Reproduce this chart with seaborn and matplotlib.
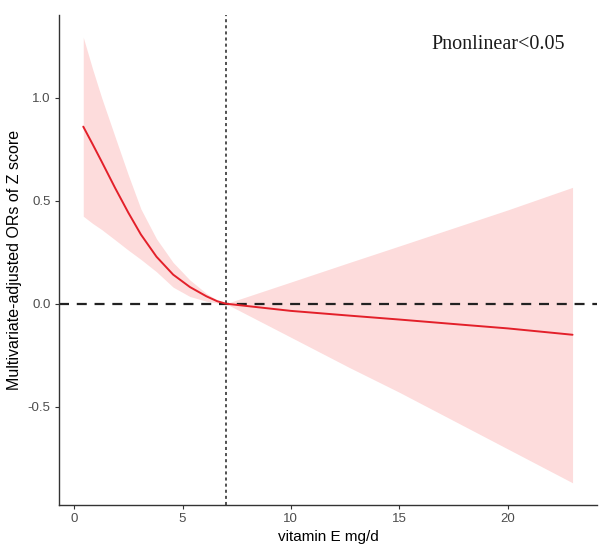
import matplotlib
matplotlib.use("Agg")
import matplotlib.pyplot as plt
import numpy as np
import pandas as pd
import seaborn as sns

# Values (restricted cubic spline, ref = 7 mg/d)
vit_e = [0.42, 0.85, 1.27, 1.89, 2.5, 3.08, 3.8, 4.57, 5.34, 6.1, 6.6, 7.0,
         10.0, 12.7, 15.0, 18.0, 20.0, 23.0]
fit = [0.86, 0.775, 0.69, 0.562, 0.442, 0.336, 0.228, 0.141, 0.081, 0.036,
       0.012, 0.0, -0.035, -0.058, -0.077, -0.103, -0.12, -0.151]
upper = [1.294, 1.14, 1.0, 0.81, 0.625, 0.46, 0.315, 0.2, 0.115, 0.05,
         0.018, 0.0, 0.105, 0.20, 0.28, 0.385, 0.455, 0.565]
lower = [0.425, 0.39, 0.36, 0.31, 0.26, 0.215, 0.155, 0.08, 0.035, 0.012,
         0.003, 0.0, -0.163, -0.31, -0.43, -0.595, -0.705, -0.87]

ref_x = 7.0
y_ticks = [-0.5, 0.0, 0.5, 1.0]
x_ticks = [0, 5, 10, 15, 20]
annot = "Pnonlinear<0.05"

df = pd.DataFrame({"vitamin E mg/d": vit_e, "fit": fit,
                   "upper": upper, "lower": lower})

sns.set_theme(style="ticks")
plt.rcParams["font.family"] = ["Liberation Sans", "DejaVu Sans"]

fig = plt.figure(figsize=(6, 5.46), dpi=100)
ax = fig.add_axes([0.098, 0.075, 0.897, 0.8975])

ax.fill_between(df["vitamin E mg/d"], df["lower"], df["upper"],
                color="#fddcdc", linewidth=0, zorder=1)
sns.lineplot(data=df, x="vitamin E mg/d", y="fit", color="#e3202a",
             linewidth=1.4, ax=ax, zorder=3)

ax.axhline(0, color="#222222", linestyle=(0, (4.5, 3.5)), linewidth=1.6, zorder=2)
ax.axvline(ref_x, color="#222222", linestyle=(0, (2, 2)), linewidth=1.1, zorder=2)

xmin, xmax = min(vit_e), max(vit_e)
xpad = 0.05 * (xmax - xmin)
ymin, ymax = min(lower), max(upper)
ypad = 0.05 * (ymax - ymin)
ax.set_xlim(xmin - xpad, xmax + xpad)
ax.set_ylim(ymin - ypad, ymax + ypad)
ax.set_xticks(x_ticks)
ax.set_yticks(y_ticks)
ax.set_yticklabels([f"{v:.1f}" for v in y_ticks])

ax.set_xlabel("vitamin E mg/d", fontsize=11, color="black", labelpad=3)
ax.set_ylabel("Multivariate-adjusted ORs of Z score", fontsize=11.5,
              color="black", labelpad=4)
ax.tick_params(axis="both", labelsize=9.5, labelcolor="#4d4d4d",
               color="#333333", length=3, width=0.8, pad=3)

for side in ["top", "right"]:
    ax.spines[side].set_visible(False)
for side in ["left", "bottom"]:
    ax.spines[side].set_color("#333333")
    ax.spines[side].set_linewidth(1.0)

ax.text(0.816, 0.939, annot, transform=ax.transAxes, ha="center", va="center",
        fontsize=14.5, family=["Liberation Serif", "DejaVu Serif"], color="#1a1a1a")

fig.savefig("out.png", dpi=100)
